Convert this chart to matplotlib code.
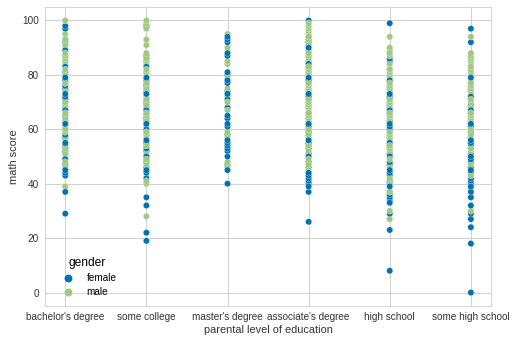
import matplotlib
matplotlib.use("Agg")
import matplotlib.pyplot as plt
import pandas as pd
import seaborn as sns

# parental level of education (x categories)
categories = ["bachelor's degree", "some college", "master's degree",
              "associate's degree", "high school", "some high school"]

# math scores, per category and gender
bach_female = [29, 37, 43, 44, 45, 47, 49, 51, 52, 53, 54, 55, 57, 58, 60, 62, 63, 65, 66, 67,
               68, 70, 71, 72, 73, 74, 75, 76, 77, 78, 79, 80, 81, 83, 85, 87, 89, 92, 93, 97, 98]
bach_male = [39, 46, 48, 50, 51, 53, 55, 56, 59, 60, 61, 63, 64, 66, 67, 68, 69, 70, 72, 74,
             77, 78, 80, 82, 84, 85, 86, 87, 88, 90, 91, 93, 95, 100]

coll_female = [19, 22, 32, 35, 42, 44, 45, 46, 48, 49, 50, 52, 53, 54, 55, 56, 58, 59, 60, 62,
               63, 64, 65, 66, 67, 68, 69, 70, 71, 73, 74, 75, 76, 77, 78, 79, 81, 83, 85, 86, 87, 98]
coll_male = [28, 40, 41, 45, 47, 49, 51, 54, 57, 58, 59, 61, 62, 63, 65, 66, 67, 68, 69, 71,
             72, 73, 75, 77, 79, 80, 81, 82, 84, 85, 86, 88, 91, 93, 97, 99, 100]

mast_female = [40, 45, 47, 50, 52, 53, 54, 55, 56, 58, 61, 62, 64, 65, 68, 71, 73, 74, 77, 78,
               80, 81, 87, 88, 92, 93, 94]
mast_male = [46, 48, 57, 59, 67, 70, 72, 75, 79, 84, 85, 90, 95]

assoc_female = [26, 37, 39, 40, 41, 42, 43, 44, 46, 48, 50, 51, 53, 54, 55, 56, 57, 58, 59, 60,
                61, 62, 63, 64, 65, 66, 68, 69, 70, 71, 72, 73, 74, 75, 77, 78, 79, 80, 81, 82,
                83, 84, 85, 87, 88, 90, 92, 93, 94, 100]
assoc_male = [44, 45, 47, 49, 50, 52, 54, 55, 57, 58, 60, 62, 63, 64, 65, 66, 67, 68, 69, 70,
              71, 72, 73, 74, 75, 76, 77, 78, 79, 80, 81, 82, 83, 84, 85, 86, 87, 88, 89, 90,
              91, 93, 94, 95, 96, 97, 98, 99]

high_female = [8, 23, 29, 33, 34, 35, 36, 37, 39, 40, 41, 43, 44, 45, 47, 48, 50, 51, 53, 54,
               55, 57, 58, 59, 60, 61, 62, 63, 65, 66, 67, 68, 69, 70, 71, 72, 73, 75, 76, 77,
               78, 80, 82, 85, 86, 88, 99]
high_male = [27, 30, 37, 40, 42, 44, 46, 49, 52, 53, 54, 56, 57, 58, 59, 61, 62, 64, 65, 66,
             67, 68, 69, 70, 71, 72, 73, 74, 75, 76, 77, 78, 79, 80, 81, 82, 84, 87, 88, 89, 90, 94]

somehigh_female = [0, 18, 24, 27, 29, 32, 35, 37, 39, 40, 41, 42, 44, 45, 46, 48, 49, 50, 51, 53,
                   54, 55, 56, 57, 59, 60, 61, 62, 63, 64, 65, 66, 67, 68, 69, 71, 72, 74, 75, 76,
                   77, 79, 82, 92, 97]
somehigh_male = [30, 38, 43, 47, 50, 52, 53, 55, 56, 57, 58, 60, 61, 62, 63, 64, 65, 66, 67, 68,
                 70, 71, 73, 74, 75, 76, 77, 78, 79, 80, 81, 82, 83, 84, 85, 86, 87, 88, 94]

scores = {
    "bachelor's degree": (bach_female, bach_male),
    "some college": (coll_female, coll_male),
    "master's degree": (mast_female, mast_male),
    "associate's degree": (assoc_female, assoc_male),
    "high school": (high_female, high_male),
    "some high school": (somehigh_female, somehigh_male),
}

rows = []
for cat in categories:
    fem, mal = scores[cat]
    rows += [(cat, "female", v) for v in fem]
    rows += [(cat, "male", v) for v in mal]
df = pd.DataFrame(rows, columns=["parental level of education", "gender", "math score"])
# shuffle draw order deterministically so neither colour sits on top everywhere
df["order"] = (df["math score"] * 37 + (df["gender"] == "male") * 5) % 17
df = df.sort_values("order", kind="stable").drop(columns="order")

plt.rcParams["font.family"] = ["Liberation Sans", "DejaVu Sans"]
plt.rcParams["font.size"] = 10

fig = plt.figure(figsize=(517 / 72, 344 / 72), dpi=72)
ax = fig.add_axes([0.087, 0.110, 0.863, 0.870])

sns.scatterplot(data=df, x="parental level of education", y="math score", hue="gender",
                hue_order=["female", "male"], palette=["#0072B2", "#9FC97E"],
                s=40, edgecolor="white", linewidth=0.3, ax=ax)

ax.set_xlim(-0.25, 5.25)
ax.set_ylim(-5, 105)
ax.set_yticks([0, 20, 40, 60, 80, 100])
ax.grid(True, color="#cccccc", linewidth=0.9)
ax.set_axisbelow(True)
for sp in ax.spines.values():
    sp.set_color("#cccccc")
ax.tick_params(length=0, labelsize=10, colors="#333333", pad=6)
ax.set_xlabel("parental level of education", fontsize=11, color="#333333", labelpad=3)
ax.set_ylabel("math score", fontsize=11, color="#333333", labelpad=3)

leg = ax.legend(title="gender", loc="lower left", frameon=False, fontsize=10,
                title_fontsize=12, markerscale=1.3, labelspacing=0.4,
                bbox_to_anchor=(0.01, 0.0))

fig.savefig("out.png", dpi=72)
